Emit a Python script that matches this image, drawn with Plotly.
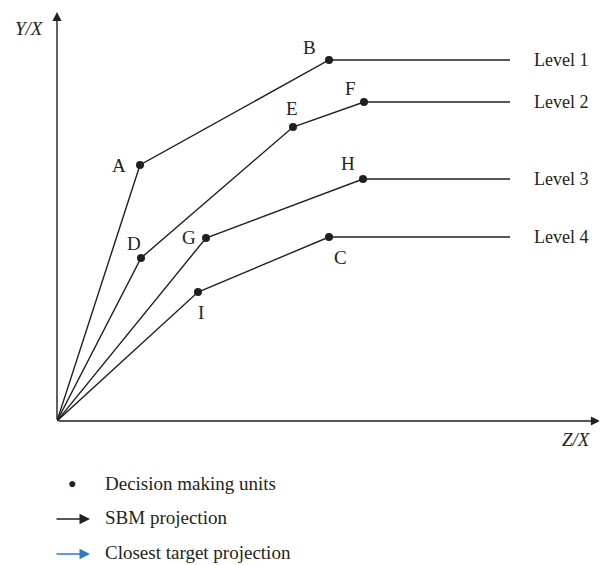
import plotly.graph_objects as go

# Data (units, arbitrary scale)
level_names = ["Level 1", "Level 2", "Level 3", "Level 4"]
level_points = {
    "Level 1": ["A", "B"],
    "Level 2": ["D", "E", "F"],
    "Level 3": ["G", "H"],
    "Level 4": ["I", "C"],
}
dmu_names = ["A", "B", "C", "D", "E", "F", "G", "H", "I"]
dmu_x = [83, 272, 272, 84, 236, 307, 149, 306, 141]
dmu_y = [256, 361, 184, 163, 294, 319, 183, 242, 129]
frontier_end_x = 453
x_max = 543
y_max = 409

pos = {n: (x, y) for n, x, y in zip(dmu_names, dmu_x, dmu_y)}
# label offsets (px) for point labels
label_off = {
    "A": (-21, 0), "B": (-20, 13), "C": (11, -20), "D": (-7, 15), "E": (-1, 19),
    "F": (-14, 14), "G": (-17, 1), "H": (-15, 16), "I": (3, -20),
}

ink = "#231f20"
font_family = "Liberation Serif, Times New Roman, serif"
fs = 19

fig = go.Figure()

for lvl in level_names:
    pts = level_points[lvl]
    xs = [0] + [pos[p][0] for p in pts] + [frontier_end_x]
    ys = [0] + [pos[p][1] for p in pts] + [pos[pts[-1]][1]]
    fig.add_trace(go.Scatter(x=xs, y=ys, mode="lines",
                             line=dict(color=ink, width=1.4),
                             showlegend=False, hoverinfo="skip"))
    fig.add_annotation(x=frontier_end_x, y=ys[-1], text=lvl, showarrow=False,
                       xanchor="left", xshift=22, font=dict(size=fs - 1, color=ink, family=font_family))

fig.add_trace(go.Scatter(x=dmu_x, y=dmu_y, mode="markers",
                         marker=dict(color=ink, size=8),
                         showlegend=False, hoverinfo="skip"))

for n in dmu_names:
    dx, dy = label_off[n]
    fig.add_annotation(x=pos[n][0], y=pos[n][1], text=n, showarrow=False,
                       xshift=dx, yshift=dy, font=dict(size=fs, color=ink, family=font_family))

# axes arrows
fig.add_annotation(x=x_max, y=0, ax=0, ay=0, axref="x", ayref="y", xref="x", yref="y",
                   showarrow=True, arrowhead=2, arrowsize=1.3, arrowwidth=1.4, arrowcolor=ink, text="")
fig.add_annotation(x=0, y=y_max, ax=0, ay=0, axref="x", ayref="y", xref="x", yref="y",
                   showarrow=True, arrowhead=2, arrowsize=1.3, arrowwidth=1.4, arrowcolor=ink, text="")

fig.add_annotation(x=0, y=y_max, xref="x", yref="y", text="<i>Y/X</i>", showarrow=False,
                   xanchor="right", xshift=-11, yshift=-16, font=dict(size=fs, color=ink, family=font_family))
fig.add_annotation(x=x_max, y=0, xref="x", yref="y", text="<i>Z/X</i>", showarrow=False,
                   xanchor="right", xshift=-7, yshift=-18, font=dict(size=fs, color=ink, family=font_family))

# legend (custom)
legend_items = ["Decision making units", "SBM projection", "Closest target projection"]
legend_colors = [ink, ink, "#2f7bbf"]
leg_y = [-62, -96, -131]  # pixel offsets below x-axis
for i, (txt, col) in enumerate(zip(legend_items, legend_colors)):
    fig.add_annotation(x=0, y=0, xref="x", yref="y", text=txt, showarrow=False,
                       xanchor="left", xshift=46, yshift=leg_y[i],
                       font=dict(size=fs, color=ink, family=font_family))
    if i == 0:
        fig.add_annotation(x=0, y=0, xref="x", yref="y", text="●", showarrow=False,
                           xshift=15, yshift=leg_y[i], font=dict(size=14, color=col))
    else:
        fig.add_annotation(x=0, y=0, xref="x", yref="y", text="", showarrow=True,
                           ax=-35, ay=0, xshift=33, yshift=leg_y[i] - 2,
                           arrowhead=2, arrowsize=1.5, arrowwidth=1.4, arrowcolor=col)

fig.update_xaxes(range=[0, x_max], showgrid=False, zeroline=False, showticklabels=False,
                 ticks="", showline=False)
fig.update_yaxes(range=[0, y_max], showgrid=False, zeroline=False, showticklabels=False,
                 ticks="", showline=False)
fig.update_layout(width=607, height=565, margin=dict(l=49, r=15, t=4, b=152),
                  plot_bgcolor="white", paper_bgcolor="white",
                  font=dict(family=font_family, color=ink))

fig.write_html("out.html")
